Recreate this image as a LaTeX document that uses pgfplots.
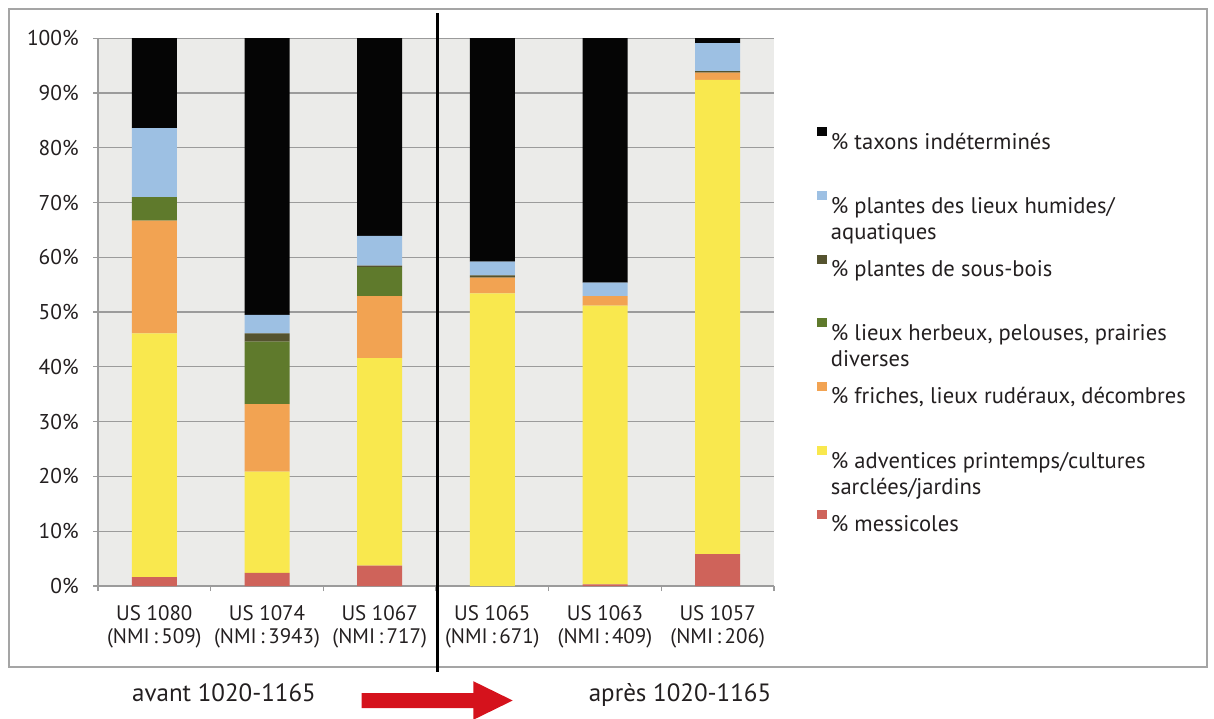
\documentclass[border=0pt]{standalone}
\usepackage{fontspec}
\setmainfont{PT Sans}
\usepackage{pgfplots}
\pgfplotsset{compat=1.18}
\definecolor{cblack}{HTML}{050505}
\definecolor{cblue}{HTML}{9DC0E3}
\definecolor{cbrown}{HTML}{55532F}
\definecolor{cgreen}{HTML}{5F7A2C}
\definecolor{corange}{HTML}{F2A352}
\definecolor{cyellow}{HTML}{F9E84E}
\definecolor{cred}{HTML}{CF635A}
\definecolor{cbg}{HTML}{EBEBE9}
\definecolor{cgrid}{HTML}{9B9B9B}
\definecolor{ctext}{HTML}{231F20}
\definecolor{carrow}{HTML}{D5121C}
\definecolor{cframe}{HTML}{A5A5A5}
\newcommand{\legB}[2]{\begin{tabular}[t]{@{}l@{}}#1\\#2\end{tabular}}
\pgfplotsset{legswatch/.style={legend image code/.code={\fill[##1] (0pt,3pt) rectangle (5pt,7.5pt);}}}
\begin{document}
\begin{tikzpicture}
\useasboundingbox (0pt,0pt) rectangle (607pt,359pt);
\draw[cframe, line width=0.8pt] (4.5pt,25.5pt) rectangle (603.5pt,354.5pt);
\begin{axis}[
  at={(49pt,66pt)}, anchor=south west, scale only axis,
  width=338pt, height=273.9pt,
  ybar stacked, bar width=22.5pt,
  xmin=-0.5, xmax=5.5, ymin=0, ymax=100,
  axis background/.style={fill=cbg},
  axis x line*=bottom, axis y line*=left,
  axis line style={cgrid, line width=0.6pt},
  ymajorgrids, grid style={cgrid, line width=0.6pt},
  ytick={0,10,...,100},
  yticklabel={\pgfmathprintnumber{\tick}\%},
  /pgf/number format/assume math mode=true,
  yticklabel style={font=\fontsize{10.7}{12}\selectfont, text=ctext, inner sep=0pt, xshift=-7pt},
  tick align=outside, major tick length=2.5pt,
  ytick style={cgrid, line width=0.6pt},
  xtick={0,...,5},
  major x tick style={draw=none},
  minor xtick={-0.5,0.5,...,5.5},
  minor tick length=2.5pt,
  minor x tick style={cgrid, line width=0.6pt},
  xticklabels={{US 1080\\(NMI\,:\,509)},{US 1074\\(NMI\,:\,3943)},{US 1067\\(NMI\,:\,717)},{US 1065\\(NMI\,:\,671)},{US 1063\\(NMI\,:\,409)},{US 1057\\(NMI\,:\,206)}},
  xticklabel style={font=\fontsize{10.5}{11.5}\selectfont, text=ctext, align=center, inner sep=0pt, yshift=-7pt},
  legend style={at={(1.0636,0.837)}, anchor=north west, draw=none, fill=none,
    inner sep=0pt, outer sep=0pt, row sep=19.3pt, column sep=2pt,
    font=\fontsize{11.3}{13}\selectfont, text=ctext,
    nodes={inner sep=0pt, outer sep=0pt}},
  legend cell align=left,
  reverse legend,
  clip=false,
]
\addplot[fill=cred, draw=none, legswatch] coordinates {(0,1.6) (1,2.4) (2,3.7) (3,0) (4,0.3) (5,5.8)};
\addlegendentry{\% messicoles}
\addplot[fill=cyellow, draw=none, legswatch] coordinates {(0,44.5) (1,18.5) (2,37.9) (3,53.4) (4,50.9) (5,86.6)};
\addlegendentry{\legB{\% adventices printemps/cultures}{sarclées/jardins}}
\addplot[fill=corange, draw=none, legswatch] coordinates {(0,20.6) (1,12.3) (2,11.3) (3,2.9) (4,1.7) (5,1.3)};
\addlegendentry{\% friches, lieux rudéraux, décombres}
\addplot[fill=cgreen, draw=none, legswatch] coordinates {(0,4.3) (1,11.4) (2,5.3) (3,0) (4,0) (5,0)};
\addlegendentry{\legB{\% lieux herbeux, pelouses, prairies}{diverses}}
\addplot[fill=cbrown, draw=none, legswatch] coordinates {(0,0) (1,1.5) (2,0.3) (3,0.4) (4,0) (5,0.3)};
\addlegendentry{\% plantes de sous-bois}
\addplot[fill=cblue, draw=none, legswatch] coordinates {(0,12.6) (1,3.4) (2,5.4) (3,2.5) (4,2.5) (5,5.1)};
\addlegendentry{\legB{\% plantes des lieux humides/}{aquatiques}}
\addplot[fill=cblack, draw=none, legswatch] coordinates {(0,16.4) (1,50.5) (2,36.1) (3,40.8) (4,44.6) (5,0.9)};
\addlegendentry{\% taxons indéterminés}
\end{axis}
\draw[black, line width=1.2pt] (218.65pt,23.2pt) -- (218.65pt,352.5pt);
\fill[carrow] (180.85pt,5pt) -- (236.65pt,5pt) -- (236.65pt,-0.9pt) -- (256.35pt,8.75pt) -- (236.65pt,18.4pt) -- (236.65pt,12.5pt) -- (180.85pt,12.5pt) -- cycle;
\node[font=\fontsize{12.5}{14}\selectfont, text=ctext, anchor=base, inner sep=0pt] at (112pt,8.2pt) {avant 1020-1165};
\node[font=\fontsize{12.5}{14}\selectfont, text=ctext, anchor=base, inner sep=0pt] at (340pt,8.2pt) {après 1020-1165};
\end{tikzpicture}
\end{document}
